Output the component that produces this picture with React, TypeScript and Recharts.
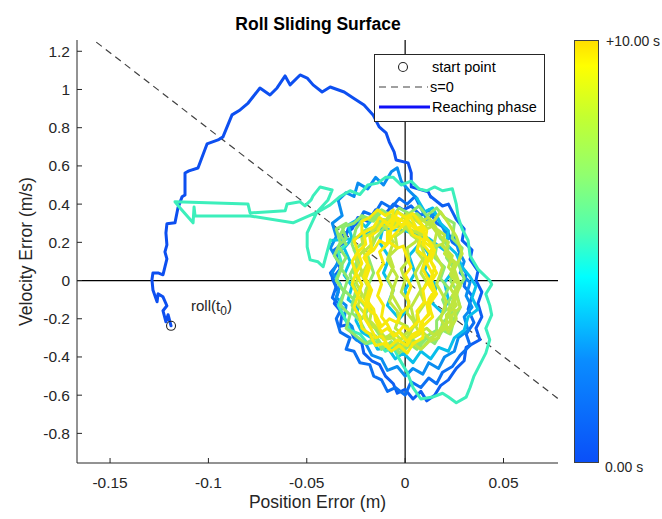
import React from 'react';
import { ComposedChart, Line, XAxis, YAxis, ReferenceDot } from 'recharts';

type P = [number, number];

const xTicks = [-0.15, -0.1, -0.05, 0, 0.05];
const yTicks = [-0.8, -0.6, -0.4, -0.2, 0, 0.2, 0.4, 0.6, 0.8, 1, 1.2];
const xDomain: [number, number] = [-0.1668, 0.0777];
const yDomain: [number, number] = [-0.955, 1.259];
const colorbarLabels = ['+10.00 s', '0.00 s'];
const legendLabels = ['start point', 's=0', 'Reaching phase'];

const startPoint: P = [-0.119, -0.237];
const slidingSurface: P[] = [[-0.157, 1.248], [0.0777, -0.618]];
const zeroVertical: P[] = [[0, yDomain[0]], [0, yDomain[1]]];
const zeroHorizontal: P[] = [[xDomain[0], 0], [xDomain[1], 0]];

const reachingPhase: P[] = [
  [-0.119, -0.237], [-0.1205, -0.179], [-0.1216, -0.216], [-0.1231, -0.158], [-0.1211, -0.132],
  [-0.1231, -0.085], [-0.1256, -0.07], [-0.1261, -0.111], [-0.1282, -0.049], [-0.1287, 0.004],
  [-0.1282, 0.04], [-0.1256, 0.04], [-0.1231, 0.03], [-0.1221, 0.072], [-0.1211, 0.113],
  [-0.1221, 0.15], [-0.1211, 0.187], [-0.1216, 0.249], [-0.1211, 0.297], [-0.117, 0.302],
  [-0.1155, 0.38], [-0.1134, 0.438], [-0.1119, 0.448], [-0.1119, 0.563], [-0.1099, 0.574],
  [-0.1053, 0.589], [-0.1007, 0.715], [-0.0951, 0.736], [-0.0926, 0.752], [-0.088, 0.867],
  [-0.0839, 0.893], [-0.0798, 0.929], [-0.0738, 1.008], [-0.0687, 0.971], [-0.0651, 1.008],
  [-0.061, 1.071], [-0.0585, 1.024], [-0.0534, 1.076], [-0.0498, 1.06], [-0.0468, 1.024],
  [-0.0422, 0.987], [-0.0381, 1.013], [-0.031, 0.987], [-0.0264, 0.956], [-0.0209, 0.919],
  [-0.0163, 0.867], [-0.0132, 0.804], [-0.0097, 0.773], [-0.0081, 0.726], [-0.0056, 0.673],
  [-0.0046, 0.631], [0.0015, 0.616], [0.0031, 0.563], [0.0031, 0.49], [0.0117, 0.464], [0.013, 0.438],
];

const loopBlueA: P[] = [
  [0.013, 0.44], [0.019, 0.39], [0.022, 0.4], [0.026, 0.32], [0.03, 0.27], [0.029, 0.21], [0.034, 0.16],
  [0.033, 0.11], [0.037, 0.05], [0.036, 0.0], [0.039, -0.06], [0.037, -0.12], [0.039, -0.19], [0.036, -0.25],
  [0.038, -0.31], [0.031, -0.35], [0.03, -0.42], [0.026, -0.46], [0.022, -0.52], [0.018, -0.55], [0.015, -0.6],
  [0.011, -0.63], [0.008, -0.58], [0.004, -0.62], [0.0, -0.57], [-0.004, -0.59], [-0.006, -0.54], [-0.01, -0.5],
  [-0.013, -0.44], [-0.017, -0.42], [-0.021, -0.38], [-0.022, -0.33], [-0.026, -0.3], [-0.029, -0.23],
  [-0.033, -0.24], [-0.032, -0.17], [-0.036, -0.12], [-0.034, -0.06], [-0.037, 0.01], [-0.033, 0.06],
  [-0.035, 0.13], [-0.031, 0.18], [-0.032, 0.24], [-0.027, 0.27], [-0.024, 0.33], [-0.019, 0.31],
  [-0.015, 0.37], [-0.01, 0.35], [-0.006, 0.4], [-0.001, 0.37], [0.003, 0.39],
];

const loopBlueB: P[] = [
  [0.003, 0.39], [0.008, 0.34], [0.012, 0.37], [0.016, 0.3], [0.021, 0.27], [0.024, 0.2], [0.028, 0.17],
  [0.027, 0.1], [0.031, 0.04], [0.03, -0.03], [0.034, -0.08], [0.032, -0.15], [0.035, -0.22], [0.031, -0.28],
  [0.033, -0.34], [0.028, -0.39], [0.024, -0.45], [0.019, -0.48], [0.016, -0.54], [0.012, -0.51], [0.008, -0.56],
  [0.003, -0.53], [0.0, -0.6], [-0.005, -0.56], [-0.009, -0.58], [-0.012, -0.52], [-0.016, -0.5], [-0.018, -0.44],
  [-0.023, -0.43], [-0.026, -0.37], [-0.03, -0.36], [-0.028, -0.3], [-0.033, -0.27], [-0.035, -0.2],
  [-0.032, -0.14], [-0.037, -0.09], [-0.035, -0.03], [-0.038, 0.04], [-0.034, 0.09], [-0.036, 0.16],
  [-0.031, 0.2], [-0.029, 0.27], [-0.024, 0.3], [-0.021, 0.36], [-0.016, 0.34], [-0.012, 0.41],
  [-0.007, 0.38], [-0.003, 0.43], [0.001, 0.4], [0.005, 0.44], [0.008, 0.38],
];

const loopBlueC: P[] = [
  [0.008, 0.38], [0.011, 0.32], [0.015, 0.35], [0.019, 0.28], [0.022, 0.22], [0.025, 0.24], [0.027, 0.16],
  [0.03, 0.1], [0.028, 0.04], [0.033, -0.01], [0.031, -0.08], [0.034, -0.14], [0.03, -0.19], [0.032, -0.26],
  [0.027, -0.3], [0.025, -0.37], [0.02, -0.4], [0.017, -0.46], [0.012, -0.43], [0.009, -0.49], [0.004, -0.46],
  [0.0, -0.5], [-0.004, -0.45], [-0.009, -0.47], [-0.012, -0.41], [-0.017, -0.39], [-0.02, -0.33],
  [-0.025, -0.31], [-0.027, -0.24], [-0.031, -0.2], [-0.03, -0.13], [-0.035, -0.09], [-0.033, -0.02],
  [-0.037, 0.04], [-0.034, 0.1], [-0.038, 0.17], [-0.035, 0.23], [-0.037, 0.3], [-0.032, 0.34],
  [-0.034, 0.42], [-0.03, 0.46], [-0.026, 0.44], [-0.024, 0.51], [-0.019, 0.48], [-0.015, 0.54],
  [-0.011, 0.5], [-0.007, 0.57], [-0.004, 0.59], [-0.002, 0.52], [0.002, 0.47], [0.006, 0.43],
];

const loopCyan: P[] = [
  [0.006, 0.43], [0.01, 0.36], [0.014, 0.38], [0.018, 0.3], [0.022, 0.26], [0.021, 0.19], [0.026, 0.14],
  [0.029, 0.07], [0.033, 0.02], [0.036, -0.03], [0.034, -0.09], [0.037, -0.15], [0.032, -0.19], [0.03, -0.26],
  [0.025, -0.3], [0.022, -0.37], [0.017, -0.35], [0.013, -0.41], [0.008, -0.37], [0.004, -0.43], [-0.001, -0.38],
  [-0.005, -0.41], [-0.009, -0.35], [-0.014, -0.36], [-0.017, -0.3], [-0.022, -0.27], [-0.025, -0.21],
  [-0.024, -0.14], [-0.029, -0.1], [-0.027, -0.03], [-0.031, 0.03], [-0.028, 0.1], [-0.031, 0.17],
  [-0.027, 0.22], [-0.029, 0.29], [-0.024, 0.32], [-0.02, 0.28], [-0.016, 0.33], [-0.011, 0.29],
  [-0.013, 0.2], [-0.008, 0.12], [-0.011, 0.04], [-0.006, -0.05], [-0.009, -0.13], [-0.003, -0.2],
  [0.002, -0.14], [0.0, -0.05], [0.005, 0.04], [0.002, 0.13], [0.008, 0.2], [0.012, 0.14], [0.01, 0.05],
  [0.016, -0.03], [0.013, -0.11], [0.019, -0.17], [0.022, -0.1], [0.02, -0.01], [0.025, 0.06],
  [0.021, 0.15], [0.012, 0.22], [0.0, 0.26], [-0.013, 0.27], [-0.026, 0.22], [-0.038, 0.21],
];

const loopAqua: P[] = [
  [-0.038, 0.213], [-0.0417, 0.072], [-0.0443, 0.098], [-0.0483, 0.108], [-0.0498, 0.176], [-0.0498, 0.249],
  [-0.0448, 0.359], [-0.0392, 0.422], [-0.0371, 0.474], [-0.0432, 0.49], [-0.0468, 0.443], [-0.0478, 0.422],
  [-0.0509, 0.391], [-0.0534, 0.412], [-0.06, 0.401], [-0.061, 0.365], [-0.0788, 0.354], [-0.0799, 0.401],
  [-0.117, 0.412], [-0.1144, 0.38], [-0.1078, 0.302], [-0.1073, 0.385], [-0.1068, 0.338], [-0.0788, 0.338],
  [-0.057, 0.302], [-0.0443, 0.359], [-0.0381, 0.396], [-0.033, 0.44], [-0.028, 0.47], [-0.023, 0.45],
  [-0.019, 0.5], [-0.014, 0.51], [-0.01, 0.54], [-0.006, 0.54], [-0.002, 0.5], [0.003, 0.52], [0.007, 0.48],
  [0.011, 0.47], [0.015, 0.49], [0.019, 0.47], [0.024, 0.48], [0.026, 0.4], [0.027, 0.33], [0.029, 0.27],
  [0.032, 0.21], [0.033, 0.13], [0.037, 0.06], [0.043, 0.0], [0.044, -0.02], [0.041, -0.07], [0.043, -0.13],
  [0.044, -0.18], [0.041, -0.25], [0.043, -0.31], [0.041, -0.38], [0.038, -0.44], [0.035, -0.5], [0.033, -0.56],
  [0.031, -0.61], [0.026, -0.64], [0.022, -0.61], [0.019, -0.59], [0.014, -0.61], [0.008, -0.62], [0.004, -0.56],
  [0.001, -0.48], [-0.003, -0.41], [-0.006, -0.35], [-0.01, -0.37], [-0.014, -0.32], [-0.019, -0.33],
  [-0.023, -0.28], [-0.028, -0.26], [-0.031, -0.19], [-0.034, -0.13], [-0.031, -0.06], [-0.035, 0.01],
  [-0.032, 0.08], [-0.034, 0.15], [-0.03, 0.19],
];

const loopLime: P[] = [
  [-0.03, 0.19], [-0.033, 0.24], [-0.03, 0.3], [-0.035, 0.27], [-0.033, 0.2], [-0.036, 0.13], [-0.032, 0.07],
  [-0.035, 0.0], [-0.031, -0.06], [-0.033, -0.13], [-0.028, -0.18], [-0.03, -0.25], [-0.025, -0.29],
  [-0.02, -0.33], [-0.015, -0.3], [-0.012, -0.36], [-0.007, -0.32], [-0.003, -0.38], [0.002, -0.33],
  [0.006, -0.36], [0.011, -0.3], [0.015, -0.33], [0.019, -0.26], [0.023, -0.28], [0.025, -0.2], [0.028, -0.14],
  [0.026, -0.06], [0.03, 0.01], [0.027, 0.09], [0.029, 0.17], [0.024, 0.22], [0.025, 0.3], [0.02, 0.33],
  [0.016, 0.38], [0.011, 0.34], [0.007, 0.39], [0.002, 0.35], [-0.003, 0.38], [-0.007, 0.33], [-0.012, 0.36],
  [-0.016, 0.31], [-0.021, 0.33], [-0.025, 0.27], [-0.027, 0.19], [-0.024, 0.11], [-0.028, 0.03],
  [-0.025, -0.05], [-0.027, -0.13], [-0.022, -0.2], [-0.018, -0.14], [-0.02, -0.05], [-0.016, 0.04],
  [-0.019, 0.13], [-0.015, 0.22],
  [-0.004, 0.36], [0.001, 0.33], [0.006, 0.35], [0.011, 0.3], [0.015, 0.28], [0.018, 0.22], [0.022, 0.18],
  [0.021, 0.12], [0.025, 0.06], [0.023, 0.0], [0.026, -0.05], [0.022, -0.11], [0.024, -0.17], [0.019, -0.22],
  [0.018, -0.27], [0.013, -0.3], [0.009, -0.35], [0.004, -0.32], [-0.001, -0.37], [-0.006, -0.33],
  [-0.011, -0.35], [-0.015, -0.29], [-0.02, -0.27], [-0.023, -0.21], [-0.027, -0.17], [-0.026, -0.1],
  [-0.031, -0.05], [-0.029, 0.01], [-0.033, 0.07], [-0.03, 0.12], [-0.034, 0.18], [-0.03, 0.22],
  [-0.032, 0.28], [-0.026, 0.3], [-0.022, 0.34], [-0.017, 0.32], [-0.012, 0.37], [-0.007, 0.34],
  [-0.002, 0.29], [0.003, 0.25], [0.008, 0.27], [0.012, 0.21], [0.016, 0.18], [0.015, 0.12], [0.02, 0.07],
  [0.018, 0.01], [0.022, -0.04], [0.019, -0.1], [0.021, -0.15], [0.016, -0.21], [0.016, -0.26], [0.011, -0.29],
  [0.007, -0.33], [0.002, -0.3], [-0.003, -0.34], [-0.007, -0.29], [-0.012, -0.3], [-0.016, -0.24],
  [-0.02, -0.2], [-0.02, -0.14], [-0.025, -0.08], [-0.022, -0.02], [-0.026, 0.04], [-0.023, 0.1],
  [-0.026, 0.16], [-0.021, 0.2], [-0.021, 0.26], [-0.016, 0.28], [-0.011, 0.32], [-0.006, 0.29],
];

const loopYellowGreen: P[] = [
  [-0.006, 0.29], [-0.01, 0.28], [-0.006, 0.2], [-0.009, 0.11], [-0.004, 0.02], [-0.007, -0.07], [-0.002, -0.16],
  [-0.005, -0.25], [0.001, -0.3], [0.005, -0.23], [0.003, -0.14], [0.008, -0.05], [0.005, 0.04], [0.01, 0.13],
  [0.007, 0.22], [0.012, 0.31], [0.016, 0.25], [0.014, 0.16], [0.019, 0.07], [0.016, -0.02], [0.021, -0.11],
  [0.018, -0.2], [0.022, -0.27], [0.026, -0.2], [0.024, -0.11], [0.028, -0.03], [0.025, 0.06], [0.029, 0.14],
  [0.026, 0.23], [0.022, 0.3], [0.018, 0.36], [0.013, 0.29],
  [0.003, 0.35], [0.008, 0.31], [0.012, 0.33], [0.016, 0.27], [0.02, 0.24], [0.019, 0.18], [0.024, 0.13],
  [0.022, 0.07], [0.026, 0.02], [0.023, -0.04], [0.026, -0.09], [0.022, -0.15], [0.023, -0.21], [0.018, -0.25],
  [0.017, -0.3], [0.012, -0.32], [0.008, -0.36], [0.003, -0.32], [-0.002, -0.35], [-0.006, -0.3], [-0.011, -0.31],
  [-0.014, -0.25], [-0.018, -0.21], [-0.017, -0.15], [-0.021, -0.09], [-0.019, -0.03], [-0.022, 0.03],
  [-0.019, 0.09], [-0.021, 0.15], [-0.016, 0.2], [-0.017, 0.26], [-0.012, 0.29], [-0.008, 0.34], [-0.003, 0.31],
  [0.001, 0.35], [0.006, 0.31], [0.011, 0.27], [0.015, 0.29], [0.018, 0.23], [0.022, 0.2], [0.02, 0.14],
  [0.025, 0.09], [0.023, 0.03], [0.027, -0.02], [0.024, -0.08], [0.026, -0.13], [0.021, -0.18], [0.021, -0.24],
  [0.016, -0.27], [0.013, -0.31], [0.009, -0.27], [0.004, -0.3], [0.001, -0.24], [-0.003, -0.22], [-0.004, -0.16],
  [-0.008, -0.11], [-0.006, -0.05], [-0.009, 0.01], [-0.006, 0.07], [-0.008, 0.13], [-0.004, 0.17],
  [-0.005, 0.23], [-0.001, 0.26], [0.002, 0.31], [0.011, 0.22], [0.015, 0.18], [0.019, 0.19], [0.022, 0.13],
  [0.026, 0.09], [0.024, 0.03], [0.028, -0.02], [0.026, -0.08], [0.028, -0.14], [0.024, -0.18], [0.023, -0.24],
  [0.019, -0.26], [0.015, -0.29], [0.011, -0.25], [0.007, -0.27], [0.004, -0.21], [0.001, -0.17], [0.002, -0.11],
  [-0.002, -0.06], [0.0, 0.0], [-0.002, 0.06], [0.002, 0.11], [0.001, 0.17], [0.005, 0.2], [0.008, 0.24],
  [-0.008, 0.32], [-0.004, 0.28], [0.0, 0.3], [0.003, 0.24], [0.007, 0.21], [0.006, 0.15], [0.01, 0.1],
  [0.008, 0.04], [0.011, -0.01], [0.008, -0.07], [0.01, -0.12], [0.006, -0.18], [0.006, -0.23], [0.001, -0.27],
  [-0.002, -0.31], [-0.006, -0.27], [-0.01, -0.3], [-0.014, -0.25], [-0.018, -0.24], [-0.02, -0.18],
  [-0.024, -0.13], [-0.022, -0.07], [-0.025, -0.01], [-0.022, 0.05], [-0.025, 0.11], [-0.021, 0.16],
  [-0.022, 0.22], [-0.017, 0.25], [-0.014, 0.3], [-0.01, 0.28], [-0.007, 0.33],
];

const loopYellow: P[] = [
  [-0.006, 0.34], [-0.001, 0.31], [0.003, 0.33], [0.006, 0.27], [0.01, 0.25], [0.009, 0.19], [0.013, 0.14],
  [0.011, 0.09], [0.014, 0.03], [0.012, -0.02], [0.015, -0.07], [0.011, -0.12], [0.012, -0.18], [0.008, -0.22],
  [0.007, -0.28], [0.003, -0.3], [0.001, -0.34], [-0.004, -0.31], [-0.008, -0.35], [-0.012, -0.29],
  [-0.015, -0.3], [-0.018, -0.24], [-0.021, -0.19], [-0.02, -0.13], [-0.024, -0.08], [-0.022, -0.02],
  [-0.025, 0.04], [-0.022, 0.09], [-0.024, 0.15], [-0.02, 0.19], [-0.021, 0.25], [-0.016, 0.28],
  [-0.013, 0.33], [-0.009, 0.3],
  [-0.006, 0.33], [-0.002, 0.29], [0.001, 0.3], [0.004, 0.24], [0.008, 0.22], [0.006, 0.16], [0.011, 0.12],
  [0.009, 0.06], [0.012, 0.0], [0.009, -0.05], [0.01, -0.11], [0.006, -0.16], [0.007, -0.21], [0.002, -0.26],
  [-0.001, -0.24], [-0.005, -0.29], [-0.009, -0.25], [-0.012, -0.27], [-0.015, -0.21], [-0.016, -0.15],
  [-0.019, -0.11], [-0.017, -0.05], [-0.02, 0.01], [-0.018, 0.07], [-0.021, 0.12], [-0.017, 0.17],
  [-0.018, 0.23], [-0.014, 0.26], [-0.011, 0.31], [-0.007, 0.28],
  [-0.004, 0.36], [0.0, 0.33], [0.004, 0.35], [0.008, 0.3], [0.011, 0.26], [0.01, 0.2], [0.015, 0.16],
  [0.013, 0.1], [0.016, 0.04], [0.013, -0.01], [0.016, -0.07], [0.012, -0.13], [0.014, -0.19], [0.009, -0.24],
  [0.009, -0.3], [0.004, -0.33], [0.001, -0.38], [-0.003, -0.34], [-0.007, -0.37], [-0.011, -0.33],
  [-0.015, -0.34], [-0.018, -0.28], [-0.022, -0.25], [-0.023, -0.19], [-0.026, -0.14], [-0.024, -0.08],
  [-0.027, -0.02], [-0.025, 0.04], [-0.027, 0.1], [-0.024, 0.15], [-0.026, 0.21], [-0.022, 0.25],
  [-0.022, 0.31], [-0.018, 0.33], [-0.014, 0.37], [-0.01, 0.34], [-0.006, 0.37],
  [-0.008, 0.2], [-0.004, 0.17], [-0.001, 0.18], [0.001, 0.12], [0.003, 0.07], [0.0, 0.03], [0.003, -0.03],
  [0.001, -0.08], [0.002, -0.13], [-0.002, -0.17], [-0.004, -0.22], [-0.008, -0.2], [-0.012, -0.24],
  [-0.015, -0.18], [-0.018, -0.16], [-0.02, -0.1], [-0.018, -0.04], [-0.021, 0.02], [-0.019, 0.08],
  [-0.02, 0.13], [-0.016, 0.16], [-0.013, 0.21], [-0.01, 0.19],
  [0.001, 0.31], [0.005, 0.27], [0.008, 0.28], [0.011, 0.22], [0.014, 0.18], [0.012, 0.12], [0.015, 0.07],
  [0.013, 0.01], [0.015, -0.05], [0.012, -0.1], [0.013, -0.16], [0.009, -0.21], [0.008, -0.26], [0.004, -0.28],
  [0.001, -0.32], [-0.003, -0.27], [-0.006, -0.29], [-0.009, -0.23], [-0.012, -0.19], [-0.011, -0.13],
  [-0.014, -0.08], [-0.012, -0.02], [-0.014, 0.04], [-0.011, 0.09], [-0.013, 0.15], [-0.009, 0.19],
  [-0.009, 0.25], [-0.005, 0.28], [-0.002, 0.32],
];

const segments = [
  { name: 'Reaching phase', color: '#0d4ff0', points: reachingPhase },
  { name: 't1', color: '#0d5ff2', points: loopBlueA },
  { name: 't2', color: '#0c70f2', points: loopBlueB },
  { name: 't3', color: '#0a8df0', points: loopBlueC },
  { name: 't4', color: '#08bfea', points: loopCyan },
  { name: 't5', color: '#3cefbb', points: loopAqua },
  { name: 't6', color: '#8fe86c', points: loopLime },
  { name: 't7', color: '#bfe63e', points: loopYellowGreen },
  { name: 't8', color: '#f7e90b', points: loopYellow },
];

const rows = (pts: P[]) => pts.map(([x, y]) => ({ x, y }));

const FONT = '"Liberation Sans", Arial, Helvetica, sans-serif';
const AX = '#262626';

const XTick = (props: any) => {
  const { x, y, payload } = props;
  return (
    <g>
      <line x1={x} x2={x} y1={y} y2={y - 5} stroke={AX} strokeWidth={1} />
      <text x={x} y={y + 25} textAnchor="middle" fill={AX} fontSize={15.5} fontFamily={FONT}>{String(payload.value)}</text>
    </g>
  );
};

const YTick = (props: any) => {
  const { x, y, payload } = props;
  return (
    <g>
      <line x1={x} x2={x + 5} y1={y} y2={y} stroke={AX} strokeWidth={1} />
      <text x={x - 7} y={y + 5.5} textAnchor="end" fill={AX} fontSize={15.5} fontFamily={FONT}>{String(payload.value)}</text>
    </g>
  );
};

const StartLabel = (props: any) => {
  const vb = props.viewBox || {};
  const cx = (vb.x || 0) + (vb.width || 0) / 2;
  const cy = (vb.y || 0) + (vb.height || 0) / 2;
  return (
    <text x={cx + 20} y={cy - 15} fill="#262626" fontSize={15} fontFamily={FONT}>
      <tspan>roll(t</tspan>
      <tspan dy={4} fontSize={12}>0</tspan>
      <tspan dy={-4}>)</tspan>
    </text>
  );
};

const gradientStops: [number, string][] = [
  [0, '#ffde00'], [0.06, '#ffff00'], [0.18, '#c4ff30'], [0.32, '#90ff70'], [0.45, '#50ffb0'],
  [0.56, '#00ffff'], [0.76, '#0a8cff'], [1, '#0a4ff8'],
];

export default function App() {
  return (
    <div style={{ position: 'absolute', left: 0, top: 0, width: 662, height: 519, background: '#fff', fontFamily: FONT }}>
      <ComposedChart width={662} height={519} margin={{ top: 40, right: 104, bottom: 26, left: 27 }}>
        <XAxis
          type="number" dataKey="x" domain={xDomain} ticks={xTicks} allowDataOverflow height={30}
          tickSize={0} tickMargin={0} tick={XTick} stroke={AX} tickLine={false} interval={0}
          label={{ value: 'Position Error (m)', position: 'bottom', offset: 0,
            content: () => (
              <text x={317.5} y={508} textAnchor="middle" fill={AX} fontSize={17.5} fontFamily={FONT}>Position Error (m)</text>
            ) }}
        />
        <YAxis
          type="number" domain={yDomain} ticks={yTicks} allowDataOverflow width={50}
          tickSize={0} tickMargin={0} tick={YTick} stroke={AX} tickLine={false} interval={0}
          label={{ value: 'Velocity Error (m/s)', position: 'left',
            content: () => (
              <text x={32} y={251.5} transform="rotate(-90 32 251.5)" textAnchor="middle" fill={AX} fontSize={17.5} fontFamily={FONT}>Velocity Error (m/s)</text>
            ) }}
        />
        <Line data={rows(zeroVertical)} dataKey="y" stroke="#000" strokeWidth={1.2} dot={false} activeDot={false} isAnimationActive={false} />
        <Line data={rows(zeroHorizontal)} dataKey="y" stroke="#000" strokeWidth={1.2} dot={false} activeDot={false} isAnimationActive={false} />
        <Line data={rows(slidingSurface)} dataKey="y" stroke="#404040" strokeWidth={1.2} strokeDasharray="7 5"
          dot={false} activeDot={false} isAnimationActive={false} />
        {segments.map((s) => (
          <Line key={s.name} data={rows(s.points)} dataKey="y" name={s.name} stroke={s.color} strokeWidth={3}
            strokeLinejoin="round" strokeLinecap="round" dot={false} activeDot={false} isAnimationActive={false} />
        ))}
        <ReferenceDot x={startPoint[0]} y={startPoint[1]} r={4.5} fill="none" stroke="#262626" strokeWidth={1.1}
          label={<StartLabel />} />
      </ComposedChart>
      <svg width={662} height={519} style={{ position: 'absolute', left: 0, top: 0, pointerEvents: 'none' }}>
        <defs>
          <linearGradient id="cbar" x1="0" y1="0" x2="0" y2="1">
            {gradientStops.map(([o, c]) => <stop key={o} offset={o} stopColor={c} />)}
          </linearGradient>
        </defs>
        <text x={318} y={30} textAnchor="middle" fontSize={17.5} fontWeight="bold" fill="#000" fontFamily={FONT}>Roll Sliding Surface</text>
        <g>
          <rect x={374.5} y={54.5} width={170} height={67} fill="#fff" stroke={AX} strokeWidth={1} />
          <circle cx={403} cy={67} r={4.5} fill="none" stroke="#262626" strokeWidth={1.1} />
          <text x={432} y={72} fontSize={14.5} fill="#000" fontFamily={FONT}>{legendLabels[0]}</text>
          <line x1={379} x2={428} y1={87} y2={87} stroke="#404040" strokeWidth={1.2} strokeDasharray="7 5" />
          <text x={430} y={92} fontSize={14.5} fill="#000" fontFamily={FONT}>{legendLabels[1]}</text>
          <line x1={379} x2={430} y1={107} y2={107} stroke="#1010f8" strokeWidth={3} />
          <text x={432} y={112} fontSize={14.5} fill="#000" fontFamily={FONT}>{legendLabels[2]}</text>
        </g>
        <rect x={574.5} y={40.5} width={24} height={422} fill="url(#cbar)" stroke="#404040" strokeWidth={1} />
        <text x={606} y={46} fontSize={14} fill="#262626" fontFamily={FONT}>{colorbarLabels[0]}</text>
        <text x={605} y={472} fontSize={14} fill="#262626" fontFamily={FONT}>{colorbarLabels[1]}</text>
      </svg>
    </div>
  );
}
